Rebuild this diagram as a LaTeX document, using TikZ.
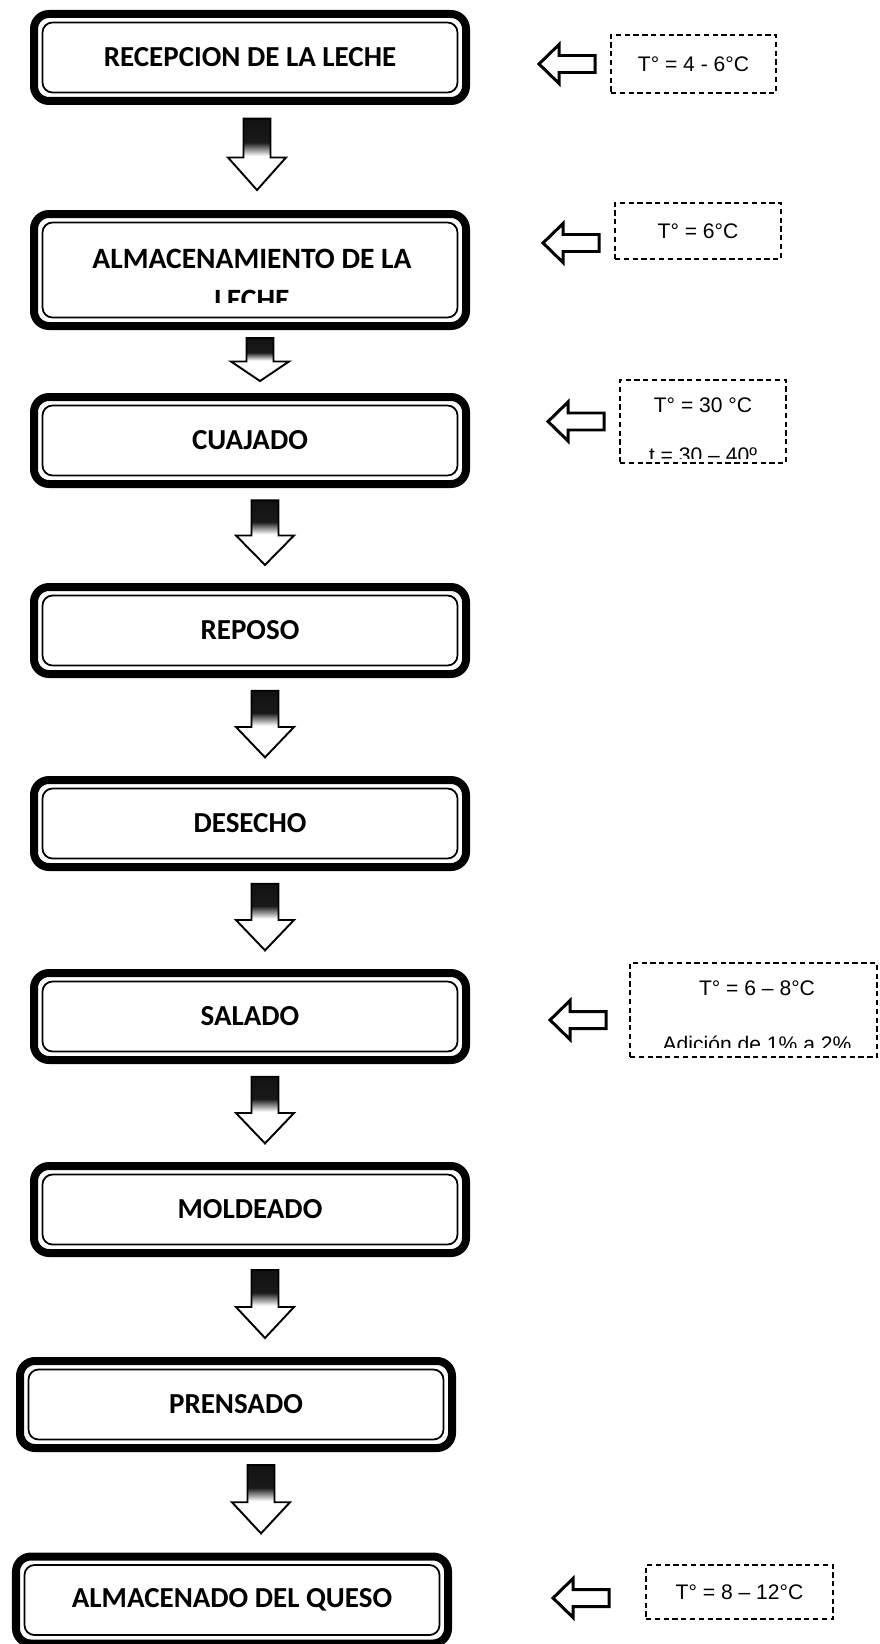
\documentclass[tikz,border=0pt]{standalone}
\usepackage{fontspec}
\newfontfamily\calibri{Carlito}
\newfontfamily\arial{Liberation Sans}
\usetikzlibrary{calc}
\pgfdeclareverticalshading{sombra}{100bp}{color(0bp)=(white); color(45bp)=(white); color(53bp)=(black!90); color(100bp)=(black)}
\tikzstyle{etapa} = [rectangle, rounded corners=0.3cm,
minimum width=8.64cm,
minimum height=1.74cm,
text centered,
draw=black, line width=0.16cm,
font=\calibri\bfseries\fontsize{16.5}{21}\selectfont,
path picture={\draw[line width=0.035cm, rounded corners=0.2cm] ([shift={(0.17cm,0.17cm)}]path picture bounding box.south west) rectangle ([shift={(-0.17cm,-0.17cm)}]path picture bounding box.north east);}]
\tikzstyle{rotulo} = [anchor=base, inner sep=0pt,
font=\calibri\bfseries\fontsize{16.8}{21}\selectfont]
\tikzstyle{dato} = [rectangle,
draw=black, line width=1.1pt,
dash pattern=on 3pt off 2pt,
font=\arial\fontsize{12}{14}\selectfont]
\tikzstyle{texto} = [anchor=base, inner sep=0pt,
font=\arial\fontsize{12}{14}\selectfont]
\tikzstyle{flecha} = [draw=black, line width=1.1pt, shade, shading=sombra,
to path={let \p1=(\tikztostart), \p2=(\tikztotarget), \n1={\y1-\y2} in
(\x1-0.27cm,\y1-0.13*\n1) -- (\x1+0.27cm,\y1-0.13*\n1) -- (\x1+0.27cm,\y1-0.5*\n1) -- (\x1+0.58cm,\y1-0.5*\n1)
-- (\x1,\y1-0.81*\n1) -- (\x1-0.58cm,\y1-0.5*\n1) -- (\x1-0.27cm,\y1-0.5*\n1) -- cycle}]
\tikzstyle{lateral} = [draw=black, fill=white, line width=1.7pt,
to path={let \p1=(\tikztostart) in
(\x1-0.3cm,\y1+0.17cm) -- (\x1-1.02cm,\y1+0.17cm) -- (\x1-1.02cm,\y1+0.39cm) -- (\x1-1.42cm,\y1)
-- (\x1-1.02cm,\y1-0.39cm) -- (\x1-1.02cm,\y1-0.17cm) -- (\x1-0.3cm,\y1-0.17cm) -- cycle}]

\begin{document}
\begin{tikzpicture}[node distance=3.86cm]
        \useasboundingbox (0,0) rectangle (17.58,-32.88);

        % etapas del proceso
        \node (recepcion) [etapa] at (5,-1.15) {RECEPCION DE LA LECHE};
        \node (almacen) [etapa, node distance=4.25cm, below of=recepcion, minimum height=2.24cm] {};
        \node (cuajado) [etapa, node distance=3.41cm, below of=almacen] {CUAJADO};
        \node (reposo) [etapa, node distance=3.8cm, below of=cuajado] {REPOSO};
        \node (desecho) [etapa, below of=reposo] {DESECHO};
        \node (salado) [etapa, below of=desecho] {SALADO};
        \node (moldeado) [etapa, below of=salado] {MOLDEADO};
        \node (prensado) [etapa, node distance=3.9cm, below of=moldeado, xshift=-0.28cm] {PRENSADO};
        \node (queso) [etapa, node distance=3.91cm, below of=prensado, xshift=-0.08cm] {ALMACENADO DEL QUESO};

        \begin{scope}
        \clip (0.8,-4.6) rectangle (9.4,-6.04);
        \node (almacen1) [rotulo] at (5.04,-5.36) {ALMACENAMIENTO DE LA};
        \node (almacen2) [rotulo] at (5.04,-6.18) {LECHE};
        \end{scope}

        % condiciones
        \node (temp1) [dato, minimum width=3.3cm, minimum height=1.16cm] at (13.87,-1.28) {T° = 4 - 6°C};
        \node (temp2) [dato, minimum width=3.32cm, minimum height=1.12cm] at (13.96,-4.62) {T° = 6°C};
        \node (temp3) [dato, minimum width=3.32cm, minimum height=1.66cm] at (14.06,-8.43) {};
        \node (temp6) [dato, minimum width=4.94cm, minimum height=1.88cm] at (15.07,-20.2) {};
        \node (temp9) [dato, minimum width=3.74cm, minimum height=1.08cm] at (14.79,-31.84) {T° = 8 – 12°C};

        \begin{scope}
        \clip (12.5,-7.7) rectangle (15.6,-9.16);
        \node (temp3a) [texto] at (14.06,-8.24) {T° = 30 °C};
        \node (temp3b) [texto] at (14.06,-9.24) {t = 30 – 40º};
        \end{scope}
        \begin{scope}
        \clip (12.7,-19.3) rectangle (17.4,-20.94);
        \node (temp6a) [texto] at (15.14,-19.9) {T° = 6 – 8°C};
        \node (temp6b) [texto] at (15.14,-21.02) {Adición de 1\% a 2\%};
        \end{scope}

        \draw [flecha] ([xshift=0.14cm]recepcion.south) to (almacen.north);
        \draw [flecha] ([xshift=0.2cm]almacen.south) to (cuajado.north);
        \draw [flecha] ([xshift=0.3cm]cuajado.south) to (reposo.north);
        \draw [flecha] ([xshift=0.3cm]reposo.south) to (desecho.north);
        \draw [flecha] ([xshift=0.3cm]desecho.south) to (salado.north);
        \draw [flecha] ([xshift=0.3cm]salado.south) to (moldeado.north);
        \draw [flecha] ([xshift=0.3cm]moldeado.south) to (prensado.north);
        \draw [flecha] ([xshift=0.5cm]prensado.south) to (queso.north);

        \draw [lateral] (temp1.west) to (recepcion.east);
        \draw [lateral] ([yshift=-0.24cm]temp2.west) to (almacen.east);
        \draw [lateral] (temp3.west) to (cuajado.east);
        \draw [lateral] ([xshift=-0.16cm,yshift=-0.2cm]temp6.west) to (salado.east);
        \draw [lateral] ([xshift=-0.42cm,yshift=-0.12cm]temp9.west) to (queso.east);

        \end{tikzpicture}
\end{document}
